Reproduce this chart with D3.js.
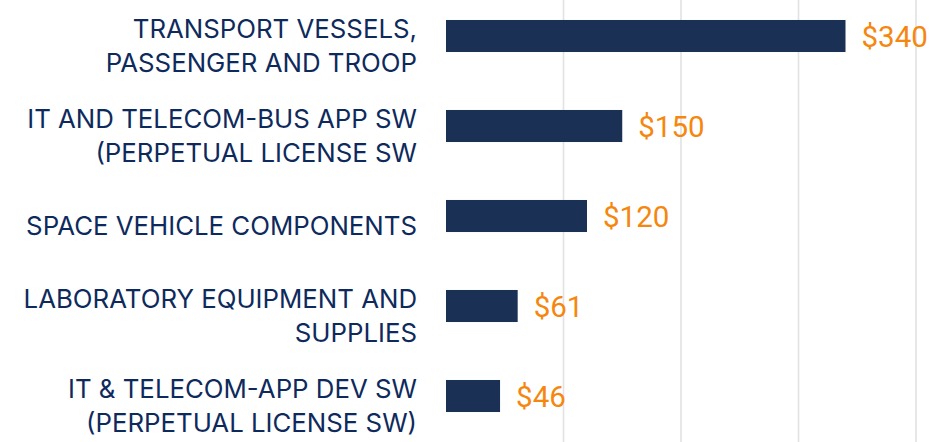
<!DOCTYPE html>
<html>
<head>
<meta charset="utf-8">
<script src="https://cdn.jsdelivr.net/npm/d3@7"></script>
<style>
  html, body { margin: 0; padding: 0; background: #fff; }
  svg { display: block; }
</style>
</head>
<body>
<svg id="chart" width="931" height="442"></svg>
<script>
// data (millions)
const categories = [
  ["TRANSPORT VESSELS,", "PASSENGER AND TROOP"],
  ["IT AND TELECOM-BUS APP SW", "(PERPETUAL LICENSE SW"],
  ["SPACE VEHICLE COMPONENTS"],
  ["LABORATORY EQUIPMENT AND", "SUPPLIES"],
  ["IT & TELECOM-APP DEV SW", "(PERPETUAL LICENSE SW)"]
];
const values = [340, 150, 120, 61, 46];
const gridTicks = [100, 200, 300, 400];

const width = 931, height = 442;
const svg = d3.select("#chart");

const keys = categories.map(d => d.join(" "));
const data = keys.map((k, i) => ({key: k, lines: categories[i], value: values[i]}));

let x = d3.scaleLinear().domain([0, 400]).range([446, 916]);
let y = d3.scaleBand().domain(keys).range([-9, 441])
  .paddingInner(0.644).paddingOuter(0.322);

// vertical gridlines
svg.append("g")
  .selectAll("line")
  .data(gridTicks)
  .enter()
  .append("line")
  .attr("x1", d => x(d))
  .attr("x2", d => x(d))
  .attr("y1", 0)
  .attr("y2", height)
  .attr("stroke", "#e2e2e2")
  .attr("stroke-width", 1.6);

// bars
svg.append("g")
  .selectAll("rect")
  .data(data)
  .enter()
  .append("rect")
  .attr("x", x(0))
  .attr("y", d => y(d.key))
  .attr("width", d => x(d.value) - x(0))
  .attr("height", y.bandwidth())
  .attr("fill", "#1b3055");

// value labels
svg.append("g")
  .selectAll("text")
  .data(data)
  .enter()
  .append("text")
  .attr("x", d => x(d.value) + 16)
  .attr("y", d => y(d.key) + y.bandwidth() / 2 + 10.5)
  .attr("fill", "#f5870f")
  .style("font-family", "Roboto, 'Liberation Sans', sans-serif")
  .style("font-size", "29.5px")
  .text(d => "$" + d.value);

// category labels
const lineH = 34.5;
const labels = svg.append("g")
  .selectAll("text")
  .data(data)
  .enter()
  .append("text")
  .attr("text-anchor", "end")
  .attr("fill", "#0e2a5c")
  .style("font-family", "Inter, sans-serif")
  .style("font-size", "25.8px");

labels.each(function(d) {
  const n = d.lines.length;
  const cy = y(d.key) + y.bandwidth() / 2 + 10;
  const first = cy - (n - 1) * lineH / 2 + 9;
  d3.select(this).selectAll("tspan")
    .data(d.lines)
    .enter()
    .append("tspan")
    .attr("x", 417)
    .attr("y", (t, i) => first + i * lineH)
    .text(t => t);
});
</script>
</body>
</html>
